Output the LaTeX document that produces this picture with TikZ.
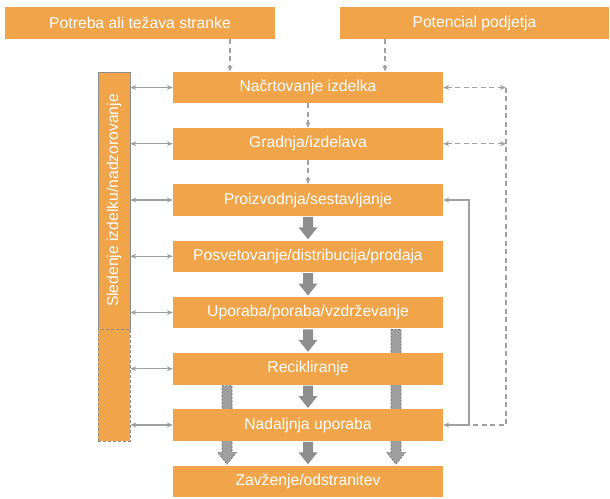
\documentclass[tikz,border=0pt]{standalone}
\usepackage{fontspec}
\setmainfont{Liberation Sans}
\usetikzlibrary{arrows.meta,calc}

\definecolor{boxorange}{HTML}{F1A54B}
\definecolor{linegray}{HTML}{A0A0A0}
\definecolor{blockgray}{HTML}{8E8E8E}
\definecolor{blockedge}{HTML}{6F6F6F}
\definecolor{sideedge}{HTML}{8C8C8C}

\tikzset{
  boxtext/.style={font=\fontsize{15.7}{18}\selectfont, text=white},
  stagebox/.style={boxtext, fill=boxorange, minimum width=270pt, minimum height=31.5pt, inner sep=0pt},
  sourcebox/.style={boxtext, fill=boxorange, minimum height=32pt, inner sep=0pt},
  twoway/.style={draw=linegray, line width=1.2pt, {Stealth[length=6pt,width=5pt]}-{Stealth[length=6pt,width=5pt]}},
  oneway/.style={draw=linegray, line width=1.2pt, -{Stealth[length=6pt,width=5pt]}},
  dashline/.style={draw=linegray, line width=1.2pt, dash pattern=on 5pt off 3.5pt},
  solidblock/.style={fill=blockgray},
  dashblock/.style={fill=blockgray!85, draw=blockedge, line width=0.6pt, dash pattern=on 2pt off 1.5pt},
}

% wide downward arrow from one anchor to another
\newcommand{\flowarrow}[3][solidblock]{%
  \path[#1] let \p1=(#2), \p2=(#3) in
    (\x1-5pt,\y1-1pt) -- (\x1+5pt,\y1-1pt) -- (\x1+5pt,\y2+13pt) -- (\x1+9.5pt,\y2+13pt)
    -- (\x1,\y2+1pt) -- (\x1-9.5pt,\y2+13pt) -- (\x1-5pt,\y2+13pt) -- cycle;}

\begin{document}
\begin{tikzpicture}[x=1pt,y=-1pt]
\useasboundingbox (0,0) rectangle (610,498);

% stages of the product life cycle
\node[stagebox] (b1) at (308,87.5)   {Načrtovanje izdelka};
\node[stagebox] (b2) at (308,143.75) {Gradnja/izdelava};
\node[stagebox] (b3) at (308,200)    {Proizvodnja/sestavljanje};
\node[stagebox] (b4) at (308,256.25) {Posvetovanje/distribucija/prodaja};
\node[stagebox] (b5) at (308,312.5)  {Uporaba/poraba/vzdrževanje};
\node[stagebox] (b6) at (308,368.75) {Recikliranje};
\node[stagebox] (b7) at (308,425)    {Nadaljnja uporaba};
\node[stagebox] (b8) at (308,481.25) {Zavženje/odstranitev};

% bypass flows, passing behind the recycling and reuse boxes
\flowarrow[dashblock]{[xshift=-81pt]b6.south}{[xshift=-81pt]b8.north}
\flowarrow[dashblock]{[xshift=88pt]b5.south}{[xshift=88pt]b8.north}
\node[stagebox] at (b6) {Recikliranje};
\node[stagebox] at (b7) {Nadaljnja uporaba};

% inputs
\node[sourcebox, minimum width=270pt] (src1) at (140,23)   {Potreba ali težava stranke};
\node[sourcebox, minimum width=269pt] (src2) at (474.5,23) {Potencial podjetja};

% tracking column
\node[fill=boxorange, draw=sideedge, line width=0.6pt, minimum width=32pt, minimum height=257pt, inner sep=0pt] (trackA) at (114,200.5) {};
\node[boxtext, rotate=90] at (trackA) {Sledenje izdelku/nadzorovanje};
\node[fill=boxorange, draw=sideedge, line width=0.6pt, dash pattern=on 3pt off 2pt, minimum width=32pt, minimum height=112pt, inner sep=0pt] (trackB) at (114,385) {};

% tracking links
\foreach \b in {b1,b2,b3,b4,b5}
  \draw[twoway] (trackA.east |- \b.west) -- (\b.west);
\foreach \b in {b6,b7}
  \draw[twoway] (trackB.east |- \b.west) -- (\b.west);

% inputs into design
\draw[dashline, -{Stealth[length=6pt,width=5pt]}] ([xshift=90pt]src1.south) -- ([xshift=90pt]src1.south |- b1.north);
\draw[dashline, -{Stealth[length=6pt,width=5pt]}] ([xshift=-89.5pt]src2.south) -- ([xshift=-89.5pt]src2.south |- b1.north);

% design and build steps
\draw[dashline, -{Stealth[length=6pt,width=5pt]}] (b1.south) -- (b2.north);
\draw[dashline, -{Stealth[length=6pt,width=5pt]}] (b2.south) -- (b3.north);

% main flow
\flowarrow{b3.south}{b4.north}
\flowarrow{b4.south}{b5.north}
\flowarrow{b5.south}{b6.north}
\flowarrow{b6.south}{b7.north}
\flowarrow{b7.south}{b8.north}

% feedback loops on the right
\coordinate (fbtop) at (506,87.5);
\coordinate (fbbot) at (506,425);
\coordinate (fbjoin) at (469,425);
\draw[dashline] (fbtop) -- (fbbot) -- (fbjoin);
\draw[dashline, {Stealth[length=6pt,width=5pt]}-{Stealth[length=6pt,width=5pt]}] (b1.east) -- (b1.east -| fbtop);
\draw[dashline, {Stealth[length=6pt,width=5pt]}-{Stealth[length=6pt,width=5pt]}] (b2.east) -- (b2.east -| fbtop);
\draw[oneway] (fbjoin) |- (b3.east);
\draw[oneway] (fbjoin) -- (b7.east);
\end{tikzpicture}
\end{document}
